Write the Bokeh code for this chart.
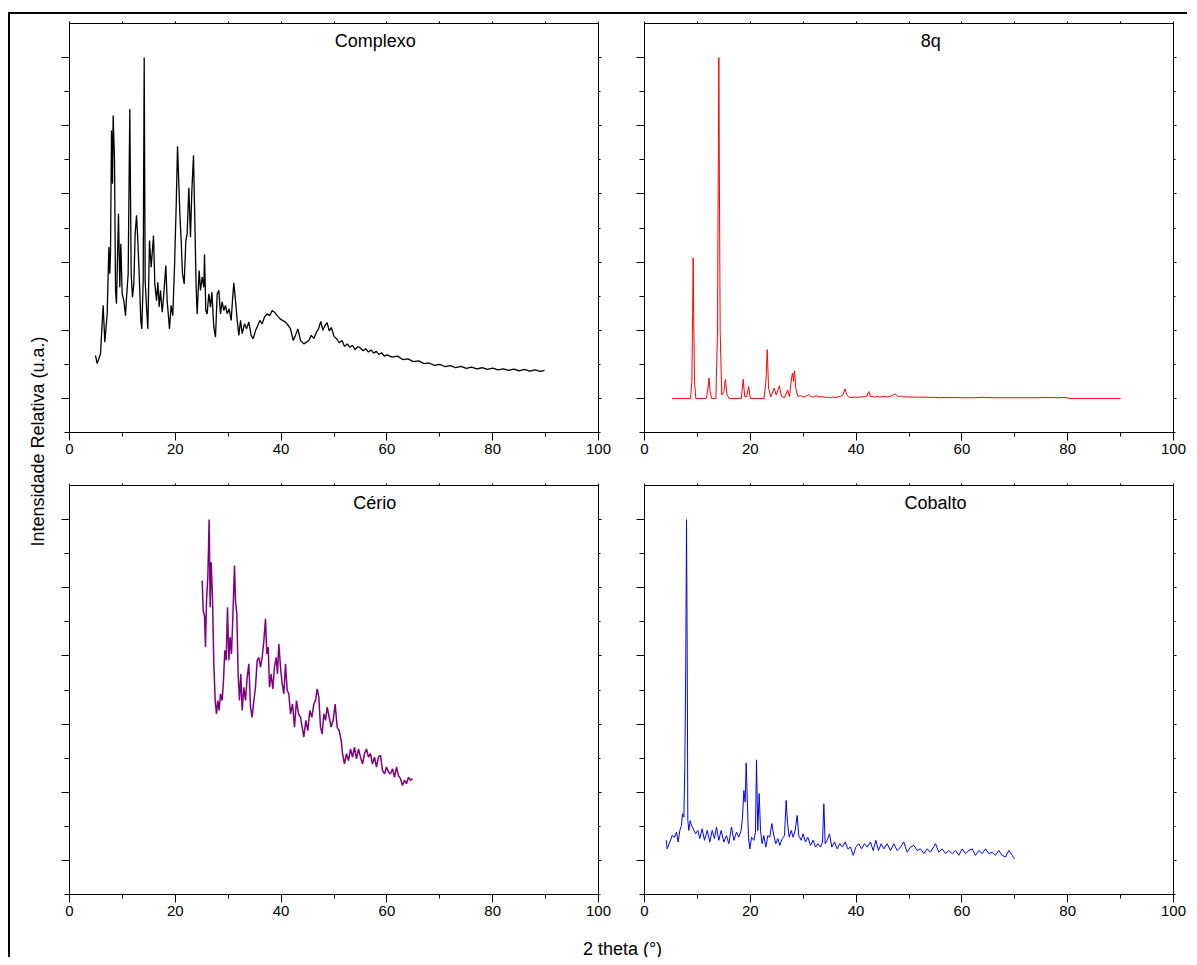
import math
from bokeh.plotting import figure
from bokeh.layouts import row, column
from bokeh.models import Range1d, LinearAxis, FixedTicker, Label, CustomJSTickFormatter
from bokeh.embed import file_html
from bokeh.resources import INLINE

FONT = "Liberation Sans"

# ---------------- data (2 theta in degrees, normalised intensity) ----------------
complexo_x = [4.91, 5.23, 5.86, 6.36, 6.68, 7.12, 7.44, 7.62, 7.75, 7.94,
              8.13, 8.25, 8.51, 8.70, 8.88, 9.26, 9.51, 9.70, 9.96, 10.27,
              10.59, 10.78, 11.09, 11.40, 11.66, 11.91, 12.16, 12.41, 12.67, 12.92,
              13.17, 13.48, 13.67, 13.93, 14.12, 14.30, 14.56, 14.81, 15.12, 15.44,
              15.88, 16.13, 16.45, 16.70, 16.95, 17.20, 17.52, 17.83, 18.21, 18.46,
              18.90, 19.22, 19.53, 19.85, 20.16, 20.42, 20.60, 20.86, 21.11, 21.36,
              21.68, 21.99, 22.24, 22.56, 22.87, 23.13, 23.44, 23.69, 23.94, 24.13,
              24.51, 24.76, 25.08, 25.39, 25.52, 25.77, 26.02, 26.34, 26.65, 26.91,
              27.28, 27.60, 27.92, 28.23, 28.54, 28.86, 29.17, 29.49, 29.81, 30.18,
              30.56, 30.81, 31.06, 31.38, 31.70, 32.01, 32.33, 32.64, 33.08, 33.46,
              33.90, 34.34, 34.72, 35.16, 35.60, 35.98, 36.42, 36.86, 37.37, 37.87,
              38.31, 38.75, 39.26, 39.76, 40.26, 40.83, 41.34, 41.78, 42.28, 42.72,
              43.16, 43.67, 44.30, 45.24,
              45.7, 46.2, 46.7, 47.1, 47.5, 47.9, 48.3, 48.7, 49.1, 49.5,
              50.0, 50.5, 51.0, 51.5, 52.0, 52.5, 53.0, 53.5, 54.0, 54.5,
              55.0, 55.5, 56.0, 56.5, 57.0, 57.5, 58.0, 58.5, 59.0, 59.5,
              60.0, 61.0, 62.0, 63.0, 64.0, 65.0, 66.0, 67.0, 68.0, 69.0,
              70.0, 71.0, 72.0, 73.0, 74.0, 75.0, 76.0, 77.0, 78.0, 79.0,
              80.0, 81.0, 82.0, 83.0, 84.0, 85.0, 86.0, 87.0, 88.0, 89.0, 89.8]
complexo_y = [0.126, 0.102, 0.131, 0.273, 0.165, 0.248, 0.444, 0.366, 0.424, 0.786,
              0.630, 0.830, 0.698, 0.317, 0.278, 0.542, 0.326, 0.454, 0.307, 0.287,
              0.243, 0.297, 0.366, 0.849, 0.366, 0.297, 0.336, 0.483, 0.537, 0.463,
              0.366, 0.229, 0.204, 0.346, 1.000, 0.346, 0.268, 0.204, 0.463, 0.385,
              0.478, 0.336, 0.287, 0.341, 0.268, 0.317, 0.253, 0.307, 0.390, 0.287,
              0.204, 0.273, 0.243, 0.385, 0.561, 0.740, 0.659, 0.542, 0.463, 0.366,
              0.336, 0.463, 0.483, 0.618, 0.473, 0.610, 0.713, 0.522, 0.326, 0.248,
              0.375, 0.317, 0.356, 0.326, 0.422, 0.258, 0.248, 0.307, 0.268, 0.312,
              0.209, 0.180, 0.307, 0.317, 0.248, 0.283, 0.258, 0.273, 0.248, 0.263,
              0.229, 0.287, 0.339, 0.287, 0.229, 0.185, 0.229, 0.190, 0.219, 0.204,
              0.224, 0.185, 0.175, 0.199, 0.214, 0.229, 0.219, 0.239, 0.248, 0.243,
              0.258, 0.253, 0.243, 0.234, 0.229, 0.224, 0.214, 0.204, 0.170, 0.185,
              0.204, 0.170, 0.160, 0.170,
              0.185, 0.176, 0.195, 0.205, 0.226, 0.200, 0.214, 0.222, 0.198, 0.208,
              0.182, 0.175, 0.163, 0.170, 0.152, 0.160, 0.150, 0.156, 0.143, 0.152,
              0.148, 0.140, 0.146, 0.136, 0.142, 0.133, 0.138, 0.129, 0.134, 0.124,
              0.128, 0.121, 0.124, 0.114, 0.116, 0.108, 0.110, 0.102, 0.104, 0.097,
              0.100, 0.093, 0.096, 0.090, 0.094, 0.088, 0.092, 0.087, 0.090, 0.085,
              0.089, 0.084, 0.087, 0.082, 0.086, 0.081, 0.085, 0.080, 0.084, 0.079, 0.082]

q8_x = [5.2, 8.7, 8.95, 9.1, 9.2, 9.3, 9.45, 9.7, 11.7, 12.0,
        12.2, 12.4, 12.7, 13.5, 13.8, 14.05, 14.3, 14.6, 15.0, 15.3,
        15.6, 16.0, 18.3, 18.65, 18.95, 19.3, 19.7, 20.0, 22.6, 22.95,
        23.2, 23.45, 23.9, 24.5, 24.9, 25.5, 25.9, 26.5, 27.05, 27.4,
        27.8, 28.0, 28.15, 28.35, 28.6, 29.0, 29.5, 30.0, 30.5, 31.06,
        31.5, 32.0, 32.5, 33.0, 33.5, 34.0, 34.5, 35.0, 35.5, 36.0,
        36.5, 37.0, 37.5, 37.9, 38.2, 38.6, 39.0, 40.0, 40.5, 41.0,
        41.5, 42.0, 42.4, 42.7, 43.5, 44.0, 44.5, 45.0, 45.5, 46.0,
        46.5, 47.0, 47.4, 47.8, 48.2, 48.6, 49.0, 49.5, 50.0, 51.0,
        52.0, 53.0, 54.0, 55.0, 56.0, 57.0, 58.0, 59.0, 60.0, 62.0,
        64.0, 66.0, 68.0, 70.0, 72.0, 74.0, 76.0, 78.0, 79.9, 80.0, 90.0]
q8_y = [0.0, 0.0, 0.05, 0.25, 0.412, 0.25, 0.05, 0.0, 0.0, 0.03,
        0.06, 0.02, 0.0, 0.0, 0.2, 1.0, 0.2, 0.01, 0.02, 0.056,
        0.01, 0.0, 0.0, 0.056, 0.005, 0.005, 0.035, 0.0, 0.0, 0.05,
        0.143, 0.03, 0.005, 0.03, 0.01, 0.037, 0.005, 0.003, 0.025, 0.005,
        0.06, 0.074, 0.05, 0.081, 0.03, 0.006, 0.008, 0.004, 0.006, 0.012,
        0.005, 0.004, 0.008, 0.004, 0.006, 0.003, 0.004, 0.002, 0.004, 0.003,
        0.004, 0.006, 0.01, 0.028, 0.012, 0.004, 0.003, 0.004, 0.003, 0.005,
        0.004, 0.006, 0.02, 0.006, 0.004, 0.006, 0.004, 0.005, 0.006, 0.004,
        0.006, 0.01, 0.013, 0.008, 0.005, 0.007, 0.004, 0.005, 0.004, 0.004,
        0.003, 0.004, 0.003, 0.003, 0.002, 0.003, 0.002, 0.003, 0.002, 0.002,
        0.003, 0.002, 0.002, 0.002, 0.002, 0.002, 0.003, 0.002, 0.003, 0.0, 0.0]

cerio_x = [25.08, 25.27, 25.52, 25.71, 25.90, 26.15, 26.40, 26.59, 26.78, 27.03,
           27.28, 27.54, 27.79, 28.04, 28.29, 28.54, 28.86, 29.11, 29.36, 29.62,
           29.87, 30.12, 30.37, 30.62, 30.88, 31.19, 31.38, 31.63, 31.88, 32.14,
           32.39, 32.64, 32.95, 33.27, 33.59, 33.90, 34.22, 34.53, 34.85, 35.16,
           35.48, 35.79, 36.11, 36.42, 36.74, 37.05, 37.30, 37.56, 37.81, 38.12,
           38.44, 38.75, 39.07, 39.32, 39.57, 39.89, 40.20, 40.52, 40.83, 41.15,
           41.46, 41.78, 42.16, 42.53, 42.91, 43.29, 43.67, 43.98, 44.30, 44.67,
           45.05, 45.43, 45.81, 46.19, 46.50, 46.82, 47.13, 47.45, 47.76, 48.08,
           48.39, 48.71, 49.09, 49.46, 49.84, 50.22, 50.60, 50.98, 51.36, 51.61,
           51.98, 52.36, 52.74, 53.12, 53.50, 53.88, 54.25, 54.63, 55.01, 55.39,
           55.77, 56.14, 56.52, 56.90, 57.28, 57.66, 58.03, 58.41, 58.79, 59.17,
           59.55, 59.92, 60.30, 60.68, 61.06, 61.44, 61.81, 62.19, 62.57, 62.95,
           63.33, 63.71, 64.08, 64.46, 64.84]
cerio_y = [0.821, 0.733, 0.718, 0.626, 0.762, 0.831, 1.000, 0.743, 0.875, 0.772,
           0.577, 0.469, 0.430, 0.469, 0.440, 0.489, 0.469, 0.528, 0.616, 0.587,
           0.743, 0.587, 0.655, 0.606, 0.714, 0.865, 0.762, 0.723, 0.547, 0.469,
           0.547, 0.440, 0.508, 0.469, 0.538, 0.577, 0.450, 0.420, 0.469, 0.508,
           0.587, 0.596, 0.567, 0.596, 0.645, 0.709, 0.606, 0.626, 0.508, 0.547,
           0.503, 0.567, 0.596, 0.547, 0.635, 0.567, 0.518, 0.489, 0.577, 0.499,
           0.489, 0.430, 0.459, 0.391, 0.469, 0.430, 0.420, 0.391, 0.362, 0.411,
           0.381, 0.440, 0.420, 0.459, 0.469, 0.503, 0.479, 0.391, 0.371, 0.430,
           0.411, 0.450, 0.420, 0.391, 0.411, 0.459, 0.391, 0.381, 0.352, 0.313,
           0.283, 0.313, 0.293, 0.327, 0.303, 0.332, 0.298, 0.327, 0.303, 0.283,
           0.313, 0.327, 0.303, 0.313, 0.283, 0.303, 0.274, 0.303, 0.308, 0.264,
           0.254, 0.274, 0.259, 0.254, 0.269, 0.244, 0.274, 0.249, 0.240, 0.220,
           0.235, 0.225, 0.244, 0.235, 0.240]

cobalto_x = [4.10, 4.28, 4.79, 5.23, 5.67, 6.05, 6.36, 6.68, 6.99, 7.18,
             7.44, 7.62, 7.81, 7.94, 8.07, 8.19, 8.38, 8.63, 8.88, 9.20,
             9.64, 10.08, 10.46, 10.90, 11.34, 11.85, 12.35, 12.79, 13.23, 13.61,
             14.05, 14.49, 15.00, 15.50, 15.94, 16.45, 16.89, 17.39, 17.83, 18.27,
             18.53, 18.78, 19.03, 19.22, 19.41, 19.66, 19.91, 20.23, 20.67, 20.98,
             21.17, 21.42, 21.68, 21.93, 22.24, 22.56, 22.94, 23.31, 23.69, 24.07,
             24.45, 24.83, 25.20, 25.58, 26.02, 26.47, 26.78, 27.03, 27.35, 27.73,
             28.10, 28.48, 28.86, 29.17, 29.62, 29.99, 30.43, 30.88, 31.38, 31.88,
             32.33, 32.77, 33.27, 33.65, 33.90, 34.15, 34.53, 34.97, 35.41, 35.92,
             36.42, 36.93, 37.43, 37.93, 38.44, 38.94, 39.45, 39.95, 40.52, 41.02,
             41.59, 42.09, 42.72, 43.23, 43.73, 44.23, 44.74, 45.24, 45.87, 46.50,
             47.13, 47.76, 48.39, 49.02, 49.65, 50.28, 50.91, 51.54, 52.17, 52.80,
             53.43, 54.06, 55.01, 55.64, 56.27, 56.90, 57.53, 58.16, 58.79, 59.42,
             60.05, 60.68, 61.31, 61.94, 62.57, 63.20, 63.83, 64.46, 65.09, 65.72,
             66.35, 66.98, 67.61, 68.24, 68.87, 69.50, 69.94]
cobalto_y = [0.059, 0.034, 0.054, 0.073, 0.068, 0.083, 0.054, 0.088, 0.103, 0.137,
             0.127, 0.274, 0.600, 1.000, 0.600, 0.117, 0.088, 0.117, 0.103, 0.093,
             0.078, 0.088, 0.064, 0.093, 0.059, 0.088, 0.054, 0.088, 0.064, 0.098,
             0.059, 0.088, 0.054, 0.073, 0.049, 0.098, 0.059, 0.083, 0.068, 0.088,
             0.127, 0.205, 0.171, 0.286, 0.186, 0.068, 0.034, 0.068, 0.059, 0.083,
             0.295, 0.088, 0.196, 0.088, 0.049, 0.073, 0.039, 0.073, 0.068, 0.108,
             0.073, 0.049, 0.064, 0.044, 0.064, 0.073, 0.176, 0.112, 0.068, 0.088,
             0.068, 0.088, 0.132, 0.073, 0.059, 0.078, 0.054, 0.068, 0.044, 0.059,
             0.039, 0.049, 0.039, 0.054, 0.166, 0.049, 0.059, 0.078, 0.039, 0.054,
             0.034, 0.049, 0.039, 0.054, 0.034, 0.039, 0.015, 0.039, 0.049, 0.034,
             0.049, 0.039, 0.054, 0.029, 0.059, 0.029, 0.049, 0.034, 0.049, 0.029,
             0.049, 0.029, 0.039, 0.054, 0.024, 0.039, 0.044, 0.029, 0.034, 0.020,
             0.034, 0.024, 0.049, 0.024, 0.034, 0.020, 0.029, 0.020, 0.029, 0.015,
             0.034, 0.020, 0.029, 0.034, 0.015, 0.029, 0.020, 0.034, 0.020, 0.024,
             0.015, 0.029, 0.015, 0.010, 0.029, 0.015, 0.005]

x_major = [0, 20, 40, 60, 80, 100]
x_minor = [10, 30, 50, 70, 90]
x_all = [0, 10, 20, 30, 40, 50, 60, 70, 80, 90, 100]
y_major = [0.0, 0.2, 0.4, 0.6, 0.8, 1.0]
y_minor = [-0.1, 0.1, 0.3, 0.5, 0.7, 0.9]

titles = ["Complexo", "8q", "Cério", "Cobalto"]
title_x = [57.8, 54.1, 57.7, 55.0]
title_y = 1.05
y_label_text = "Intensidade Relativa (u.a.)"
x_label_text = "2 theta (°)"

FRAME_W, FRAME_H = 529, 409


def blank():
    return CustomJSTickFormatter(code="return ''")


def style_axis(ax, tick_out, minor_out):
    ax.axis_line_color = "black"
    ax.axis_line_width = 1
    ax.major_tick_line_color = "black"
    ax.minor_tick_line_color = "black"
    ax.major_tick_in = 0
    ax.minor_tick_in = 0
    ax.major_tick_out = tick_out
    ax.minor_tick_out = minor_out


def panel(xs, ys, color, lw, title, tx, left, right, top, bottom):
    p = figure(frame_width=FRAME_W, frame_height=FRAME_H,
               x_range=Range1d(0, 100), y_range=Range1d(-0.1, 1.1),
               x_axis_location=None, y_axis_location=None,
               output_backend="svg", toolbar_location=None,
               min_border_left=left, min_border_right=right,
               min_border_top=top, min_border_bottom=bottom)
    p.grid.visible = False
    p.outline_line_color = "black"
    p.background_fill_color = "white"
    p.border_fill_color = "white"

    b = LinearAxis(ticker=FixedTicker(ticks=x_major, minor_ticks=x_minor))
    style_axis(b, 8, 4)
    b.major_label_text_font = FONT
    b.major_label_text_font_size = "15px"
    b.major_label_text_color = "black"
    b.major_label_standoff = 3
    p.add_layout(b, "below")

    t = LinearAxis(ticker=FixedTicker(ticks=x_all), formatter=blank())
    style_axis(t, 2, 2)
    t.major_label_standoff = 0
    p.add_layout(t, "above")

    l = LinearAxis(ticker=FixedTicker(ticks=y_major, minor_ticks=y_minor), formatter=blank())
    style_axis(l, 8, 5)
    l.major_label_standoff = 0
    p.add_layout(l, "left")

    r = LinearAxis(ticker=FixedTicker(ticks=y_major, minor_ticks=y_minor), formatter=blank())
    style_axis(r, 3, 2)
    r.major_label_standoff = 0
    p.add_layout(r, "right")

    p.line(xs, ys, line_color=color, line_width=lw)
    p.add_layout(Label(x=tx, y=title_y, text=title, text_align="center",
                       text_baseline="middle", text_font=FONT,
                       text_font_size="18px", text_color="black"))
    return p


tl = panel(complexo_x, complexo_y, "black", 1.3, titles[0], title_x[0], 21, 23, 9, 32)
tr = panel(q8_x, q8_y, "#ff0000", 1.0, titles[1], title_x[1], 23, 14, 9, 32)
bl = panel(cerio_x, cerio_y, "#800080", 1.5, titles[2], title_x[2], 21, 23, 21, 32)
br = panel(cobalto_x, cobalto_y, "#0000ff", 1.0, titles[3], title_x[3], 23, 14, 21, 32)

# label strips
YL_W, TOTAL_H = 38, 943
XL_W, XL_H = 1139, 31

ylab = figure(width=YL_W, height=TOTAL_H, x_range=Range1d(0, YL_W), y_range=Range1d(0, TOTAL_H),
              x_axis_location=None, y_axis_location=None, min_border=0,
              output_backend="svg", toolbar_location=None)
ylab.grid.visible = False
ylab.outline_line_color = None
ylab.add_layout(Label(x=27, y=516, text=y_label_text, angle=math.pi / 2,
                      text_align="center", text_baseline="middle",
                      text_font=FONT, text_font_size="18px", text_color="black"))

xlab = figure(width=XL_W, height=XL_H, x_range=Range1d(0, XL_W), y_range=Range1d(0, XL_H),
              x_axis_location=None, y_axis_location=None, min_border=0,
              output_backend="svg", toolbar_location=None)
xlab.grid.visible = False
xlab.outline_line_color = None
xlab.add_layout(Label(x=574, y=9, text=x_label_text,
                      text_align="center", text_baseline="middle",
                      text_font=FONT, text_font_size="18px", text_color="black"))

right_col = column(row(tl, tr), row(bl, br), xlab)
layout = row(ylab, right_col,
             styles={"border-top": "2px solid black", "border-left": "2px solid black",
                     "margin-top": "12px", "margin-left": "8px"})

open("out.html", "w").write(file_html(layout, INLINE))
